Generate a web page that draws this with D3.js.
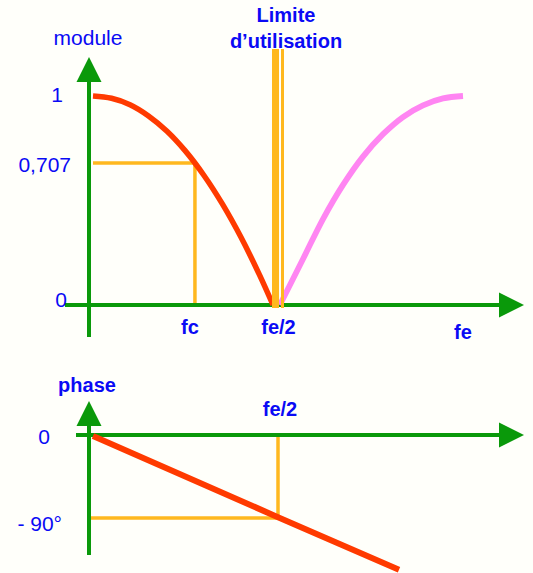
<!DOCTYPE html>
<html><head><meta charset="utf-8">
<script src="https://cdn.jsdelivr.net/npm/d3@7"></script>
<style>
html,body{margin:0;padding:0;background:#FFFFFA;}
svg{display:block;}
text{font-family:"Liberation Sans",Arial,sans-serif;fill:#0A0AF5;}
</style></head>
<body>
<script>
// ---- data ----
// module curve (frequency as fraction of fe, module value)
const redFreq   = [0, 0.05, 0.10, 0.15, 0.20, 0.25, 0.30, 0.35, 0.40, 0.45, 0.4865];
const redModule = [1, 0.990, 0.962, 0.913, 0.846, 0.759, 0.645, 0.502, 0.337, 0.150, 0];
const pinkFreq   = [0.505, 0.5676, 0.6216, 0.6757, 0.7297, 0.7838, 0.8378, 0.8919, 0.9459, 1.0];
const pinkModule = [0, 0.229, 0.428, 0.598, 0.735, 0.833, 0.908, 0.959, 0.9895, 1];
const moduleTicks = [0, 0.707, 1];
const moduleTickLabels = ["0", "0,707", "1"];
const freqLabels = ["fc", "fe/2", "fe"];
const freqLabelValues = [0.262, 0.5, 1.0];
const fc = 0.2755;
const fHalf = 0.5;
// phase line
const phaseFreq = [0, 0.5, 0.827];
const phaseDeg  = [0, -88, -145];
const phaseTicks = [0, -90];
const phaseTickLabels = ["0", "- 90°"];
const limitLabel = ["Limite", "d\u2019utilisation"];

// ---- drawing ----
const W = 533, H = 573;
const GREEN = "#0A990A", RED = "#FF3A00", PINK = "#FF85F2", YEL = "#FFB81E";
const svg = d3.select("body").append("svg").attr("width", W).attr("height", H);

const x = d3.scaleLinear().domain([0, 1]).range([93, 463]);
const yM = d3.scaleLinear().domain([0, 0.707, 1]).range([305, 163, 96]);
const yP = d3.scaleLinear().domain([0, -90]).range([435, 518]);

function arrowUp(g, cx, tipY) {
  g.append("path").attr("d", `M${cx-12.5},${tipY+25}L${cx+12.5},${tipY+25}L${cx},${tipY}Z`).attr("fill", GREEN);
}
function arrowRight(g, tipX, cy) {
  g.append("path").attr("d", `M${tipX-25},${cy-12.5}L${tipX-25},${cy+12.5}L${tipX},${cy}Z`).attr("fill", GREEN);
}

// ===== Module chart =====
const gM = svg.append("g");
gM.append("line").attr("x1", x(0)).attr("x2", x(fc)).attr("y1", yM(0.707)).attr("y2", yM(0.707))
  .attr("stroke", YEL).attr("stroke-width", 3.5);
gM.append("line").attr("x1", x(fc)).attr("x2", x(fc)).attr("y1", yM(0.707) - 1.5).attr("y2", yM(0) + 1)
  .attr("stroke", YEL).attr("stroke-width", 3.5);

gM.append("line").attr("x1", 89).attr("x2", 89).attr("y1", 337).attr("y2", 80).attr("stroke", GREEN).attr("stroke-width", 4);
arrowUp(gM, 89, 57);
gM.append("line").attr("x1", 65).attr("x2", 501).attr("y1", yM(0)).attr("y2", yM(0)).attr("stroke", GREEN).attr("stroke-width", 4);
arrowRight(gM, 524, yM(0));

const lineM = d3.line().x(d => x(d[0])).y(d => yM(d[1])).curve(d3.curveCatmullRom.alpha(0.5));
gM.append("path").attr("d", lineM(redFreq.map((f, i) => [f, redModule[i]])))
  .attr("fill", "none").attr("stroke", RED).attr("stroke-width", 5.5);
gM.append("path").attr("d", lineM(pinkFreq.map((f, i) => [f, pinkModule[i]])))
  .attr("fill", "none").attr("stroke", PINK).attr("stroke-width", 5.8);

const limitTop = 49;
gM.append("rect").attr("x", x(fHalf) - 6).attr("y", limitTop).attr("width", 7).attr("height", yM(0) + 3 - limitTop).attr("fill", YEL);
gM.append("rect").attr("x", x(fHalf) + 3).attr("y", limitTop).attr("width", 3).attr("height", yM(0) + 3 - limitTop).attr("fill", YEL);

gM.append("text").attr("x", 88).attr("y", 45).attr("text-anchor", "middle").style("font-size", "21px").text("module");
const mEnds = [67, 71, 63], mDy = [2, 9, 6];
moduleTicks.forEach((v, i) => {
  gM.append("text").attr("x", mEnds[i]).attr("y", yM(v) + mDy[i]).attr("text-anchor", "end")
    .style("font-size", "21px").text(moduleTickLabels[i]);
});
const fBase = [334, 334, 339], fShift = [0, 0.5, 0];
freqLabels.forEach((t, i) => {
  gM.append("text").attr("x", x(freqLabelValues[i]) + fShift[i]).attr("y", fBase[i]).attr("text-anchor", "middle")
    .style("font-size", "20px").style("font-weight", "bold").text(t);
});
limitLabel.forEach((t, i) => {
  gM.append("text").attr("x", 286).attr("y", 22 + i * 26).attr("text-anchor", "middle")
    .style("font-size", "20px").style("font-weight", "bold").text(t);
});

// ===== Phase chart =====
const gP = svg.append("g");
gP.append("line").attr("x1", x(fHalf)).attr("x2", x(fHalf)).attr("y1", yP(0) + 2).attr("y2", yP(-90))
  .attr("stroke", YEL).attr("stroke-width", 3.5);
gP.append("line").attr("x1", 91).attr("x2", x(fHalf)).attr("y1", yP(-90)).attr("y2", yP(-90))
  .attr("stroke", YEL).attr("stroke-width", 3.5);

gP.append("line").attr("x1", 89).attr("x2", 89).attr("y1", 555).attr("y2", 424).attr("stroke", GREEN).attr("stroke-width", 4);
arrowUp(gP, 89, 401);
gP.append("line").attr("x1", 76).attr("x2", 501).attr("y1", yP(0)).attr("y2", yP(0)).attr("stroke", GREEN).attr("stroke-width", 4);
arrowRight(gP, 524, yP(0));

const lineP = d3.line().x(d => x(d[0])).y(d => yP(d[1]) + 1);
gP.append("path").attr("d", lineP(phaseFreq.map((f, i) => [f, phaseDeg[i]])))
  .attr("fill", "none").attr("stroke", RED).attr("stroke-width", 6);

gP.append("text").attr("x", 87).attr("y", 392).attr("text-anchor", "middle")
  .style("font-size", "20px").style("font-weight", "bold").text("phase");
gP.append("text").attr("x", x(fHalf) + 2).attr("y", 416).attr("text-anchor", "middle")
  .style("font-size", "20px").style("font-weight", "bold").text("fe/2");
const pEnds = [50, 62], pDy = [9, 13];
phaseTicks.forEach((v, i) => {
  gP.append("text").attr("x", pEnds[i]).attr("y", yP(v) + pDy[i]).attr("text-anchor", "end")
    .style("font-size", "21px").text(phaseTickLabels[i]);
});
</script>
</body></html>
